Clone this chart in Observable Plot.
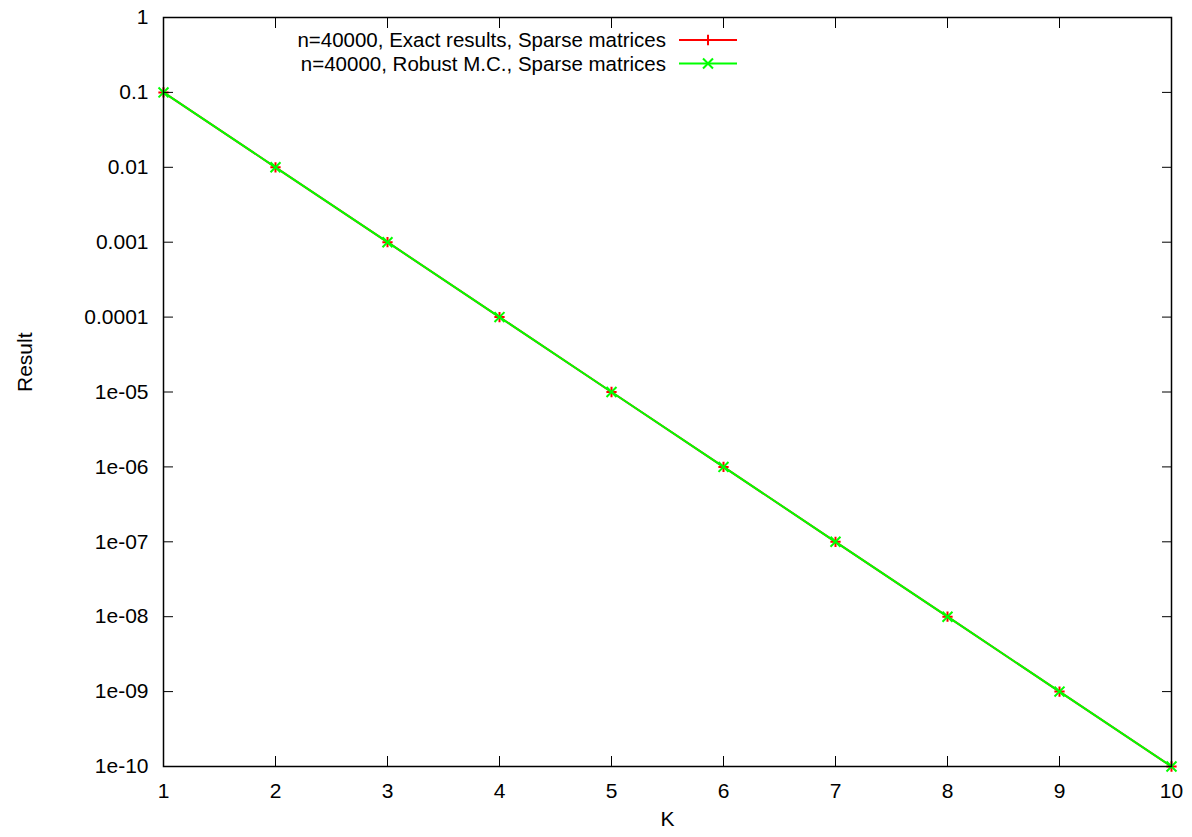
<!DOCTYPE html>
<html><head><meta charset="utf-8">
<script src="https://cdn.jsdelivr.net/npm/d3@7"></script>
<script src="https://cdn.jsdelivr.net/npm/@observablehq/plot@0.6"></script>
<style>
body{margin:0;background:#fff;font-family:"Liberation Sans",Arial,sans-serif}
#wrap{position:relative;width:1192px;height:837px}
#legend{position:absolute;left:0;top:0}
</style></head><body><div id="wrap"></div>
<script>
const kValues = [1, 2, 3, 4, 5, 6, 7, 8, 9, 10];
const exactResults = [1e-1, 1e-2, 1e-3, 1e-4, 1e-5, 1e-6, 1e-7, 1e-8, 1e-9, 1e-10];
const robustMC = [1e-1, 1e-2, 1e-3, 1e-4, 1e-5, 1e-6, 1e-7, 1e-8, 1e-9, 1e-10];
const seriesNames = ["n=40000, Exact results, Sparse matrices", "n=40000, Robust M.C., Sparse matrices"];
const seriesColors = ["#ff0000", "#00ff00"];
const seriesSymbols = ["plus", "times"];
const xTicks = [1, 2, 3, 4, 5, 6, 7, 8, 9, 10];
const yTicks = [1, 1e-1, 1e-2, 1e-3, 1e-4, 1e-5, 1e-6, 1e-7, 1e-8, 1e-9, 1e-10];
const yTickLabels = ["1", "0.1", "0.01", "0.001", "0.0001", "1e-05", "1e-06", "1e-07", "1e-08", "1e-09", "1e-10"];
const xLabel = "K";
const yLabel = "Result";

const seriesValues = [exactResults, robustMC];
const series = seriesNames.map((name, s) => kValues.map((k, i) => ({k, v: seriesValues[s][i], name})));

const font = "'Liberation Sans', Arial, Helvetica, sans-serif";
const seriesMarks = series.flatMap((rows, s) => [
  Plot.line(rows, {x: "k", y: "v", stroke: seriesColors[s], strokeWidth: 2}),
  Plot.dot(rows, {x: "k", y: "v", symbol: seriesSymbols[s], stroke: seriesColors[s], r: s === 0 ? 3.4 : 4.6, strokeWidth: 2})
]);

const chart = Plot.plot({
  width: 1192, height: 837,
  marginLeft: 163, marginRight: 21, marginTop: 17, marginBottom: 71,
  style: {fontFamily: font, fontSize: "21px", background: "white", color: "black"},
  x: {domain: [1, 10]},
  y: {type: "log", domain: [1e-10, 1]},
  marks: [
    ...seriesMarks,
    Plot.frame({stroke: "black", strokeWidth: 1.5}),
    Plot.axisX(xTicks, {anchor: "bottom", tickSize: 10, dy: -10, fill: "none", label: null}),
    Plot.axisX(xTicks, {anchor: "top", tickSize: 10, dy: 10, fill: "none", label: null}),
    Plot.axisY(yTicks, {anchor: "left", tickSize: 10, dx: 10, fill: "none", label: null}),
    Plot.axisY(yTicks, {anchor: "right", tickSize: 10, dx: -10, fill: "none", label: null}),
    Plot.axisX(xTicks, {anchor: "bottom", tickSize: 0, tickPadding: 17, label: null, tickFormat: d => String(d)}),
    Plot.axisY(yTicks, {anchor: "left", tickSize: 0, tickPadding: 15, label: null, tickFormat: d => yTickLabels[yTicks.indexOf(d)]}),
    Plot.text([xLabel], {text: d => d, frameAnchor: "bottom", dy: 59, fontSize: 21}),
    Plot.text([yLabel], {text: d => d, frameAnchor: "left", dx: -138, rotate: -90, fontSize: 21})
  ]
});

const wrap = document.getElementById("wrap");
wrap.appendChild(chart);

// legend
const legend = d3.select(wrap).append("svg").attr("id", "legend")
  .attr("width", 1192).attr("height", 100)
  .style("font-family", font).style("font-size", "20.5px");
const rowY = [40, 63.5];
const symbolTypes = {plus: d3.symbolPlus, times: d3.symbolTimes};
seriesNames.forEach((name, s) => {
  const g = legend.append("g").attr("transform", `translate(0,${rowY[s]})`);
  g.append("text").attr("x", 666).attr("y", 0).attr("dy", "0.35em").attr("text-anchor", "end").attr("fill", "black").text(name);
  g.append("line").attr("x1", 679).attr("x2", 737).attr("y1", 0).attr("y2", 0).attr("stroke", seriesColors[s]).attr("stroke-width", 2);
  g.append("path").attr("transform", "translate(708,0)")
    .attr("d", d3.symbol(symbolTypes[seriesSymbols[s]], Math.PI * (s === 0 ? 3.4 : 4.6) ** 2)())
    .attr("fill", "none").attr("stroke", seriesColors[s]).attr("stroke-width", 2);
});
</script></body></html>
